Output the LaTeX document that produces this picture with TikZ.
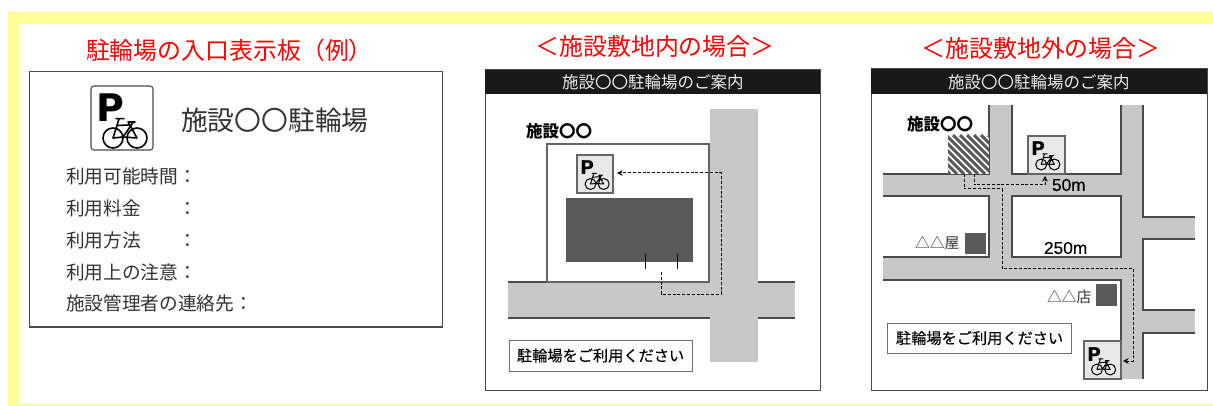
\documentclass[tikz,border=0pt]{standalone}
\usepackage{fontspec}
\setmainfont{Noto Sans CJK JP}
\newfontfamily\mediumjp[FakeBold=0.25]{Noto Sans CJK JP}
\newfontfamily\latinsans[FakeBold=0.2]{Liberation Sans}
\newfontfamily\heavysans{DejaVu Sans Bold}
\usetikzlibrary{arrows.meta}
\definecolor{bandyellow}{HTML}{FFFF99}
\definecolor{roadgrey}{HTML}{C8C8C8}
\definecolor{edgegrey}{HTML}{4A4A4A}
\definecolor{blockgrey}{HTML}{5A5A5A}
\definecolor{textgrey}{HTML}{333333}
\definecolor{iconfill}{HTML}{E8E8E8}
\newcommand{\fsz}[1]{\fontsize{#1}{#1}\selectfont}
\tikzset{
  x=1pt,y=-1pt,
  plain/.style={inner sep=0pt,outer sep=0pt},
  titletext/.style={plain,anchor=west,text=red,font=\fsz{23.9}},
  rowtext/.style={plain,anchor=west,text=textgrey,font=\fsz{18.7}},
  headtext/.style={plain,anchor=west,text=white!92!black,font=\fsz{16.5}},
  facility/.style={plain,anchor=west,text=black,font=\bfseries\fsz{16.5}},
  maptext/.style={plain,anchor=west,text=textgrey,font=\fsz{14.8}},
  noticetext/.style={plain,anchor=west,text=black,font=\mediumjp\fsz{15.2}},
  numtext/.style={plain,anchor=west,text=black,font=\latinsans\fsz{17.3}},
  panel/.style={draw=edgegrey,line width=1pt,fill=white},
  road/.style={fill=roadgrey,draw=none},
  roadedge/.style={draw=edgegrey,line width=1.1pt},
  noticebox/.style={draw=edgegrey!80,line width=1pt,fill=white},
  iconbox/.style={draw=edgegrey!85,line width=1.3pt,fill=iconfill},
  route/.style={draw=black,line width=1pt,dash pattern=on 3pt off 1.8pt},
  routearrow/.style={route,-{Stealth[length=5.5pt,width=5.5pt]}},
  pmark/.pic={\node[plain,transform shape,anchor=base west,font=\heavysans\fsz{38},text=black] (letter) at (0,0) {P};},
  bikemark/.pic={
    \draw[black,line join=round,line cap=round]
      (0,0) circle[radius=10] (24,0) circle[radius=10]
      (0,0) -- (6,-19) (3,-19.3) -- (11,-19.3)
      (4,-12.5) -- (16,-13)
      (15,-16) -- (22,-16) (20,-15.5) -- (10,-1) -- (24,0)
      (15.5,-15.5) -- (24,0)
      (0,0) -- (10,-1);
  }
}
\begin{document}
\begin{tikzpicture}
\useasboundingbox (0,0) rectangle (1213,406);
% yellow surround
\fill[bandyellow] (8,12) rectangle (1213,406);
\fill[white] (19,24) rectangle (1213,404);

% ---- panel 1: sign
\node[titletext] (title1) at (86,50) {駐輪場の入口表示板（例）};
\draw[panel] (29,72) rectangle (442,327);
\draw[draw=edgegrey,line width=1.6pt] (29,327) -- (442,327);
\draw[draw=edgegrey,line width=1.1pt,fill=white,rounded corners=3pt] (91,86) rectangle (153,150);
\pic at (96,122) {pmark};
\pic[line width=1.6pt] at (113,138) {bikemark};
\node[plain,anchor=west,text=textgrey,font=\fsz{26.8}] (signname) at (181,120) {施設〇〇駐輪場};
\node[rowtext] (row1) at (66,176) {利用可能時間：};
\node[rowtext] (row2) at (66,208) {利用料金　　：};
\node[rowtext] (row3) at (66,240) {利用方法　　：};
\node[rowtext] (row4) at (66,272) {利用上の注意：};
\node[rowtext] (row5) at (66,303) {施設管理者の連絡先：};

% ---- panel 2: inside the site
\node[titletext] (title2) at (535.5,46) {＜施設敷地内の場合＞};
\draw[panel] (485,70) rectangle (820,390);
\fill[black!90] (485,70) rectangle (820,94);
\node[headtext] (head2) at (562,82) {施設〇〇駐輪場のご案内};
\fill[road] (710,109) rectangle (758,362);
\fill[road] (508,282) rectangle (795,318);
\draw[roadedge] (508,282) -- (710,282) (758,282) -- (795,282) (508,318) -- (710,318) (758,318) -- (795,318);
\draw[draw=edgegrey!85,line width=2pt,fill=white] (547,144) rectangle (709,282);
\node[facility] (fac2) at (526,131) {施設〇〇};
\draw[iconbox] (577,155) rectangle (613,193);
\pic[scale=0.5] at (580,175) {pmark};
\pic[scale=0.55,line width=1pt] at (590.5,184) {bikemark};
\fill[blockgrey] (566,198) rectangle (693,262);
\draw[black,line width=1pt] (645,254) -- (645,269) (677,254) -- (677,269);
\draw[routearrow] (661,272) -- (661,294) -- (721,294) -- (721,173) -- (617,173);
\draw[noticebox] (509,340) rectangle (692,371);
\node[noticetext] (note2) at (517,355.5) {駐輪場をご利用ください};

% ---- panel 3: outside the site
\node[titletext] (title3) at (921.5,48) {＜施設敷地外の場合＞};
\draw[panel] (871,69) rectangle (1207,390);
\fill[black!90] (871,69) rectangle (1207,94);
\node[headtext] (head3) at (948,82) {施設〇〇駐輪場のご案内};
\fill[road] (989,105) rectangle (1012,280);
\fill[road] (1121,105) rectangle (1143,379);
\fill[road] (883,174) rectangle (1121,196);
\fill[road] (883,257) rectangle (1121,280);
\fill[road] (1143,217) rectangle (1195,239);
\fill[road] (1143,310) rectangle (1195,333);
\draw[roadedge]
  (989,105) -- (989,174) -- (883,174)
  (1012,105) -- (1012,174) -- (1121,174) -- (1121,105)
  (883,196) -- (989,196) -- (989,257) -- (883,257)
  (1012,196) -- (1121,196) -- (1121,257) -- (1012,257) -- cycle
  (883,280) -- (1121,280) -- (1121,379)
  (1143,105) -- (1143,217) -- (1195,217)
  (1195,239) -- (1143,239) -- (1143,310) -- (1195,310)
  (1195,333) -- (1143,333) -- (1143,379);
\node[facility] (fac3) at (907,124) {施設〇〇};
\fill[white] (948,135) rectangle (989,174);
\begin{scope}
  \clip (948,135) rectangle (989,174);
  \foreach \k in {0,7,...,91} {
    \draw[blockgrey,line width=3pt] (948+\k-44,135) -- (948+\k-5,174);
  }
\end{scope}
\draw[iconbox] (1028,136) rectangle (1065,174);
\pic[scale=0.5] at (1031,156) {pmark};
\pic[scale=0.55,line width=1pt] at (1041.2,164.5) {bikemark};
\draw[iconbox] (1084,341) rectangle (1121,379);
\pic[scale=0.5] at (1087,361) {pmark};
\pic[scale=0.55,line width=1pt] at (1097,369.5) {bikemark};
\node[numtext] (dist50) at (1052,185) {50m};
\node[numtext] (dist250) at (1044,248) {250m};
\node[maptext] (shop1) at (915,243) {△△屋};
\fill[blockgrey] (965,233) rectangle (986,254);
\node[maptext] (shop2) at (1047,297) {△△店};
\fill[blockgrey] (1096,284) rectangle (1117,306);
\draw[noticebox] (887,323) rectangle (1071,353);
\node[noticetext] (note3) at (896,338) {駐輪場をご利用ください};
\draw[routearrow] (974,174) -- (974,185) -- (1045,185) -- (1045,176);
\draw[routearrow] (964,174) -- (964,189) -- (1002,189) -- (1002,268) -- (1133,268) -- (1133,361) -- (1123,361);
\end{tikzpicture}
\end{document}
